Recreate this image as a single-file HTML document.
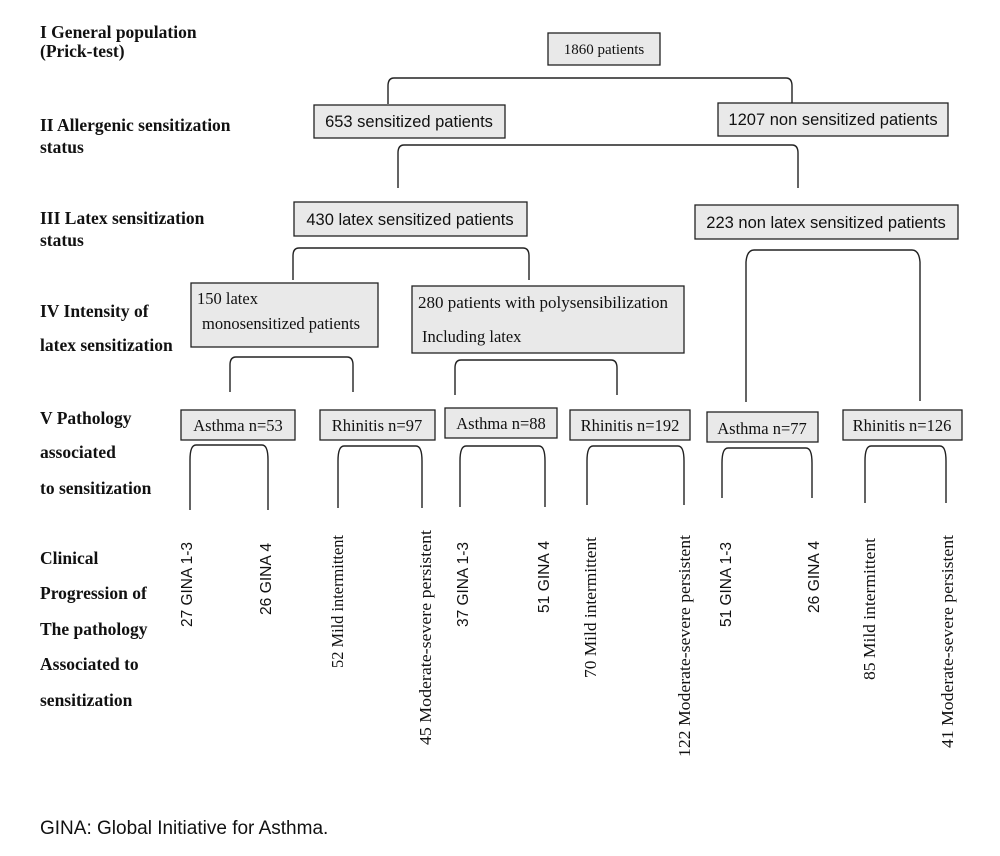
<!DOCTYPE html>
<html><head><meta charset="utf-8"><style>
html,body{margin:0;padding:0;background:#fff}
svg{display:block}
.lb{font-family:"Liberation Serif",serif;font-weight:bold;font-size:17.5px;fill:#111}
.se{font-family:"Liberation Serif",serif;font-size:16.5px;fill:#111}
.sa{font-family:"Liberation Sans",sans-serif;font-size:16.5px;fill:#111}
.rs{font-family:"Liberation Serif",serif;font-size:17px;fill:#111}
.ra{font-family:"Liberation Sans",sans-serif;font-size:16px;fill:#111}
rect{fill:#e9e9e9;stroke:#222;stroke-width:1.3}
path{fill:none;stroke:#222;stroke-width:1.4}
</style></head><body>
<svg width="1000" height="856" viewBox="0 0 1000 856" xmlns="http://www.w3.org/2000/svg">
<!-- left labels -->
<text class="lb" x="40" y="38">I General population</text>
<text class="lb" x="40" y="57">(Prick-test)</text>
<text class="lb" x="40" y="131">II Allergenic sensitization</text>
<text class="lb" x="40" y="153">status</text>
<text class="lb" x="40" y="224">III Latex sensitization</text>
<text class="lb" x="40" y="246">status</text>
<text class="lb" x="40" y="317">IV Intensity of</text>
<text class="lb" x="40" y="351">latex sensitization</text>
<text class="lb" x="40" y="424">V Pathology</text>
<text class="lb" x="40" y="458">associated</text>
<text class="lb" x="40" y="494">to sensitization</text>
<text class="lb" x="40" y="564">Clinical</text>
<text class="lb" x="40" y="599">Progression of</text>
<text class="lb" x="40" y="635">The pathology</text>
<text class="lb" x="40" y="670">Associated to</text>
<text class="lb" x="40" y="706">sensitization</text>

<!-- brackets -->
<path d="M388 104 L388 86 Q388 78 394 78 L786 78 Q792 78 792 86 L792 112"/>
<path d="M398 188 L398 153 Q398 145 404 145 L792 145 Q798 145 798 153 L798 188"/>
<path d="M293 280 L293 256 Q293 248 299 248 L523 248 Q529 248 529 256 L529 280"/>
<path d="M746 402 L746 262 Q747 250 754 250 L912 250 Q919 250 920 262 L920 401"/>
<path d="M230 392 L230 365 Q230 357 236 357 L347 357 Q353 357 353 365 L353 392"/>
<path d="M455 395 L455 368 Q455 360 461 360 L611 360 Q617 360 617 368 L617 395"/>
<path d="M190 510 L190 460 Q190 445 196 445 L262 445 Q268 445 268 460 L268 510"/>
<path d="M338 508 L338 461 Q338 446 344 446 L416 446 Q422 446 422 461 L422 508"/>
<path d="M460 507 L460 461 Q460 446 466 446 L539 446 Q545 446 545 461 L545 507"/>
<path d="M587 505 L587 461 Q587 446 593 446 L678 446 Q684 446 684 461 L684 505"/>
<path d="M722 498 L722 463 Q722 448 728 448 L806 448 Q812 448 812 463 L812 498"/>
<path d="M865 503 L865 461 Q865 446 871 446 L940 446 Q946 446 946 461 L946 503"/>

<!-- boxes -->
<rect x="548" y="33" width="112" height="32"/><text class="se" x="604" y="54" text-anchor="middle" style="font-size:15px">1860 patients</text>
<rect x="314" y="105" width="191" height="33"/><text class="sa" x="409" y="127" text-anchor="middle">653 sensitized patients</text>
<rect x="718" y="103" width="230" height="33"/><text class="sa" x="833" y="125" text-anchor="middle">1207 non sensitized patients</text>
<rect x="294" y="202" width="233" height="34"/><text class="sa" x="410" y="225" text-anchor="middle">430 latex sensitized patients</text>
<rect x="695" y="205" width="263" height="34"/><text class="sa" x="826" y="228" text-anchor="middle">223 non latex sensitized patients</text>
<rect x="191" y="283" width="187" height="64"/><text class="se" x="197" y="304">150 latex</text><text class="se" x="202" y="329">monosensitized patients</text>
<rect x="412" y="286" width="272" height="67"/><text class="se" x="418" y="308" textLength="250" lengthAdjust="spacingAndGlyphs">280 patients with polysensibilization</text><text class="se" x="422" y="342">Including latex</text>

<rect x="181" y="410" width="114" height="30"/><text class="se" x="238" y="431" text-anchor="middle">Asthma n=53</text>
<rect x="320" y="410" width="115" height="30"/><text class="se" x="377" y="431" text-anchor="middle">Rhinitis n=97</text>
<rect x="445" y="408" width="112" height="30"/><text class="se" x="501" y="429" text-anchor="middle">Asthma n=88</text>
<rect x="570" y="410" width="120" height="30"/><text class="se" x="630" y="431" text-anchor="middle">Rhinitis n=192</text>
<rect x="707" y="412" width="111" height="30"/><text class="se" x="762" y="434" text-anchor="middle">Asthma n=77</text>
<rect x="843" y="410" width="119" height="30"/><text class="se" x="902" y="431" text-anchor="middle">Rhinitis n=126</text>

<!-- rotated labels -->
<g text-anchor="end">
<text class="ra" transform="translate(192,542) rotate(-90)" textLength="85" lengthAdjust="spacingAndGlyphs">27 GINA 1-3</text>
<text class="ra" transform="translate(271,543) rotate(-90)" textLength="72" lengthAdjust="spacingAndGlyphs">26 GINA 4</text>
<text class="rs" transform="translate(343,535) rotate(-90)" textLength="133" lengthAdjust="spacingAndGlyphs">52 Mild  intermittent</text>
<text class="rs" transform="translate(431,530) rotate(-90)" textLength="215" lengthAdjust="spacingAndGlyphs">45 Moderate-severe  persistent</text>
<text class="ra" transform="translate(468,542) rotate(-90)" textLength="85" lengthAdjust="spacingAndGlyphs">37 GINA 1-3</text>
<text class="ra" transform="translate(549,541) rotate(-90)" textLength="72" lengthAdjust="spacingAndGlyphs">51 GINA 4</text>
<text class="rs" transform="translate(596,537) rotate(-90)" textLength="141" lengthAdjust="spacingAndGlyphs">70 Mild  intermittent</text>
<text class="rs" transform="translate(690,535) rotate(-90)" textLength="222" lengthAdjust="spacingAndGlyphs">122 Moderate-severe  persistent</text>
<text class="ra" transform="translate(731,542) rotate(-90)" textLength="85" lengthAdjust="spacingAndGlyphs">51 GINA 1-3</text>
<text class="ra" transform="translate(819,541) rotate(-90)" textLength="72" lengthAdjust="spacingAndGlyphs">26 GINA 4</text>
<text class="rs" transform="translate(875,538) rotate(-90)" textLength="142" lengthAdjust="spacingAndGlyphs">85 Mild  intermittent</text>
<text class="rs" transform="translate(953,535) rotate(-90)" textLength="213" lengthAdjust="spacingAndGlyphs">41 Moderate-severe  persistent</text>
</g>

<text x="40" y="834" style="font-family:'Liberation Sans',sans-serif;font-size:19px;fill:#111">GINA: Global Initiative for Asthma.</text>
</svg>
</body></html>
